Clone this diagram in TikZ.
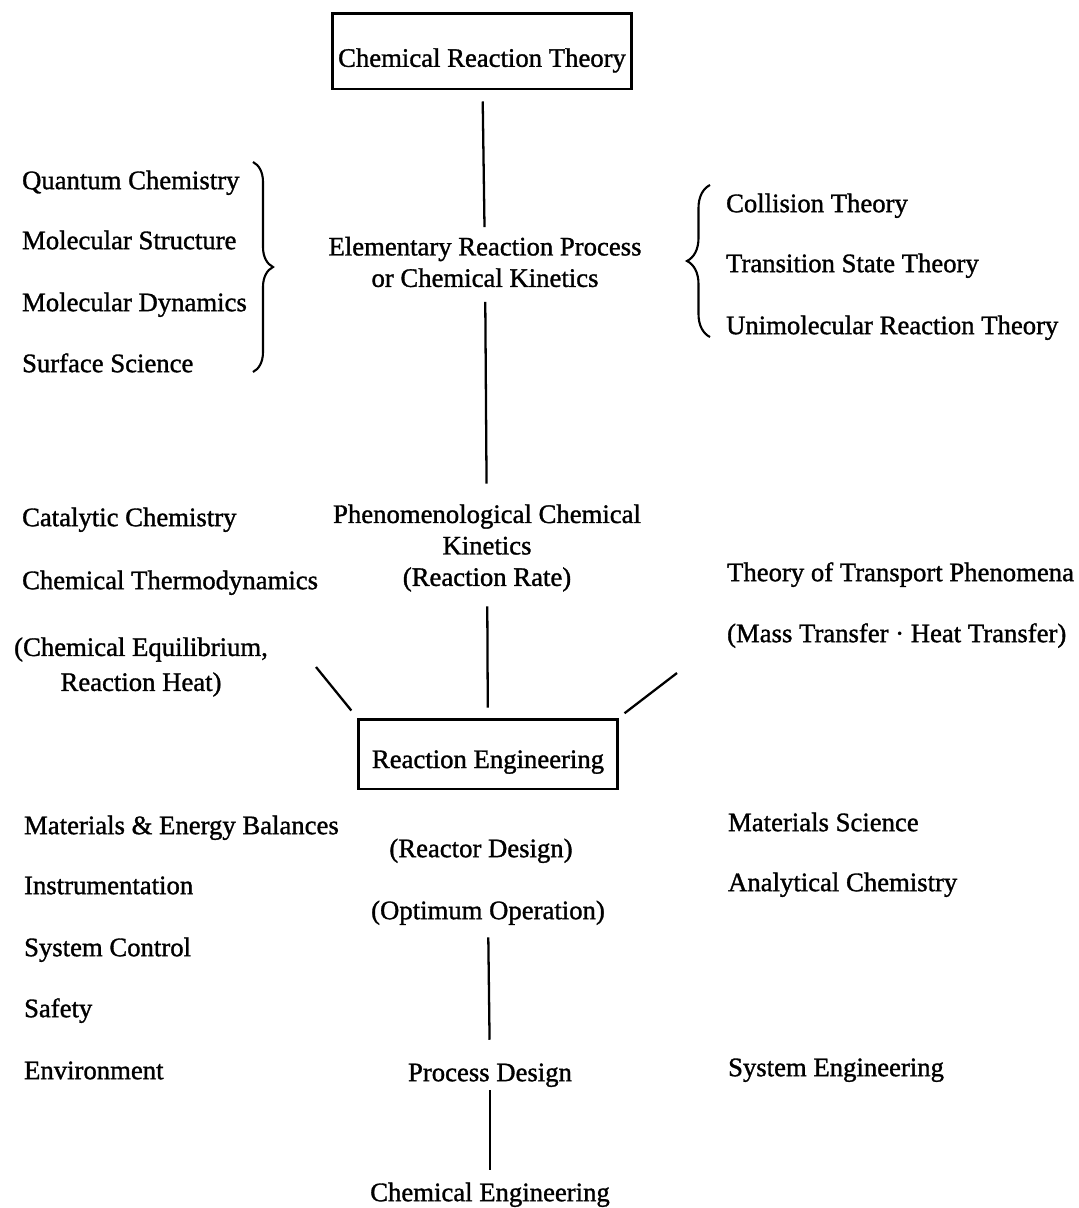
\documentclass[tikz,border=0pt]{standalone}
\usepackage{fontspec}
\setmainfont{Liberation Serif}
\newfontfamily\scanfont{Liberation Serif}[FakeBold=1.2]
\usetikzlibrary{positioning, decorations.pathreplacing}

\tikzset{
  every node/.style={font=\scanfont\fontsize{15.2}{17.9}\selectfont},
  item/.style={inner sep=1pt, text height=0.9em, text depth=0.2em},
  leftitem/.style={item, anchor=west},
  midtxt/.style={inner sep=2pt, align=center},
  framebox/.style={draw, line width=1.7pt, inner sep=2pt},
  link/.style={line width=1.3pt},
  curly/.style={decorate, line width=1.2pt},
}

\begin{document}
\begin{tikzpicture}[x=0.02cm, y=-0.02cm]
  \useasboundingbox (0,0) rectangle (1079,1208);

  % main column
  \node[framebox, minimum width=6cm, minimum height=1.52cm, text height=21pt, text depth=3pt] (crt) at (482,51) {Chemical Reaction Theory};
  \node[midtxt] (erp) at (485,262) {Elementary Reaction Process\\or Chemical Kinetics};
  \node[midtxt] (pck) at (487,548) {Phenomenological Chemical\\Kinetics\\(Reaction Rate)};
  \node[framebox, minimum width=5.18cm, minimum height=1.4cm, text height=19pt, text depth=3pt] (reng) at (488,754) {Reaction Engineering};
  \node[item] (rdes) at (481,851) {(Reactor Design)};
  \node[item] (oop) at (488,913) {(Optimum Operation)};
  \node[item] (pdes) at (490,1075) {Process Design};
  \node[item] (ceng) at (490,1195) {Chemical Engineering};

  % left column
  \node[leftitem] (qc) at (20,183) {Quantum Chemistry};
  \node[leftitem] (ms) at (20,243) {Molecular Structure};
  \node[leftitem] (md) at (20,305) {Molecular Dynamics};
  \node[leftitem] (ss) at (20,366) {Surface Science};
  \node[leftitem] (cc) at (20,520) {Catalytic Chemistry};
  \node[leftitem] (ct) at (20,583) {Chemical Thermodynamics};
  \node[midtxt] (ceq) at (141,667) {(Chemical Equilibrium,\\[2pt]Reaction Heat)};
  \node[leftitem] (meb) at (22,828) {Materials \& Energy Balances};
  \node[leftitem] (ins) at (22,888) {Instrumentation};
  \node[leftitem] (sc) at (22,950) {System Control};
  \node[leftitem] (saf) at (22,1011) {Safety};
  \node[leftitem] (env) at (22,1073) {Environment};

  % right column
  \node[leftitem] (col) at (724,206) {Collision Theory};
  \node[leftitem] (tst) at (724,266) {Transition State Theory};
  \node[leftitem] (urt) at (724,328) {Unimolecular Reaction Theory};
  \node[leftitem] (ttp) at (725,575) {Theory of Transport Phenomena};
  \node[leftitem] (mht) at (725,636) {(Mass Transfer · Heat Transfer)};
  \node[leftitem] (msc) at (726,825) {Materials Science};
  \node[leftitem] (ach) at (726,885) {Analytical Chemistry};
  \node[leftitem] (seng) at (726,1070) {System Engineering};

  % braces
  \draw[curly, decoration={brace, amplitude=0.4cm}] (253,162) -- (253,372);
  \draw[curly, decoration={brace, amplitude=0.46cm}] (710,337) -- (710,185);

  % connectors
  \draw[link, shorten <=0.22cm, shorten >=0.12cm] (crt) -- (erp);
  \draw[link, shorten <=0.22cm, shorten >=0.34cm] (erp) -- (pck);
  \draw[link, shorten <=0.22cm, shorten >=0.2cm] (pck) -- (reng);
  \draw[link, shorten <=0.25cm, shorten >=0.47cm] (oop) -- (pdes);
  \draw[link, shorten <=0.07cm, shorten >=0.27cm] (pdes) -- (ceng);
  \coordinate (lfeed) at (316,667);
  \coordinate (rfeed) at (677,673);
  \draw[link, shorten >=0.18cm] (lfeed) -- (reng.north west);
  \draw[link, shorten >=0.14cm] (rfeed) -- (reng.north east);
\end{tikzpicture}
\end{document}
